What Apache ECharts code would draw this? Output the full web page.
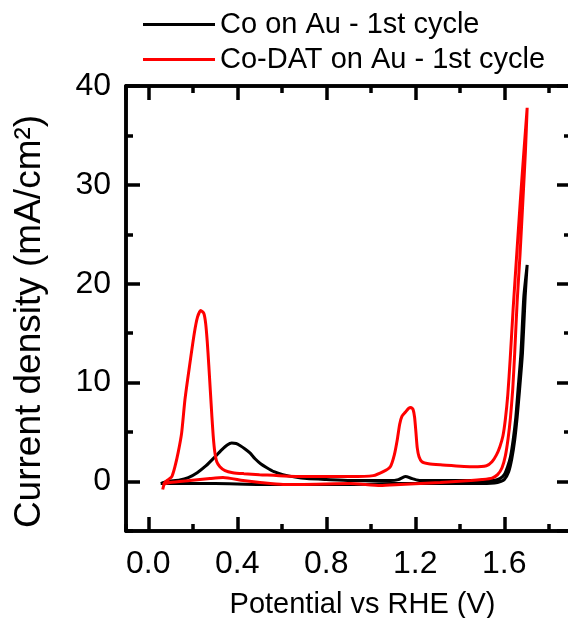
<!DOCTYPE html>
<html>
<head>
<meta charset="utf-8">
<script src="https://cdn.jsdelivr.net/npm/echarts@6/dist/echarts.min.js"></script>
<style>html,body{margin:0;padding:0;background:#fff}#c{width:568px;height:618px}</style>
</head>
<body>
<div id="c"></div>
<script>
// Co on Au - 1st cycle (forward then reverse scan)
const coPotential = [0.056,0.083,0.142,0.18,0.22,0.26,0.3,0.33,0.355,0.375,0.395,0.412,0.435,0.457,0.48,0.505,0.533,0.565,0.605,0.66,0.713,0.8,0.908,1.088,1.124,1.155,1.187,1.223,1.35,1.493,1.55,1.58,1.6,1.615,1.628,1.64,1.652,1.662,1.675,1.688,1.703,
  1.694,1.682,1.669,1.658,1.647,1.634,1.62,1.6,1.57,1.5,1.3,1.1,0.908,0.7,0.5,0.3,0.15,0.09,0.056];
const coCurrent = [-0.2,0.0,0.15,0.4,0.9,1.6,2.5,3.2,3.7,3.9,3.85,3.65,3.3,2.9,2.3,1.8,1.4,1.0,0.7,0.45,0.3,0.2,0.1,0.1,0.2,0.5,0.3,0.1,0.1,0.1,0.1,0.3,0.7,1.5,2.5,4.2,6.5,9.3,13.0,18.7,21.9,
  18.7,13.0,9.3,6.5,4.2,2.3,1.0,0.2,-0.1,-0.2,-0.2,-0.2,-0.3,-0.3,-0.3,-0.2,-0.2,-0.2,-0.2];
// Co-DAT on Au - 1st cycle
const codatPotential = [0.065,0.074,0.09,0.106,0.12,0.135,0.15,0.165,0.185,0.207,0.221,0.236,0.25,0.258,0.265,0.272,0.279,0.286,0.292,0.299,0.308,0.322,0.345,0.38,0.43,0.5,0.682,0.908,1.011,1.056,1.088,1.106,1.119,1.13,1.14,1.155,1.17,1.18,1.19,1.197,1.203,1.209,1.217,1.23,1.26,1.313,1.462,1.52,1.545,1.565,1.58,1.594,1.605,1.616,1.627,1.64,1.655,1.672,1.688,1.703,
  1.695,1.684,1.671,1.658,1.647,1.638,1.628,1.617,1.605,1.59,1.57,1.545,1.5,1.45,1.313,1.133,1.043,0.908,0.682,0.606,0.502,0.426,0.336,0.277,0.187,0.097,0.065];
const codatCurrent = [-0.8,-0.1,0.2,0.5,1.5,3.0,4.9,8.3,11.6,15.0,16.6,17.3,17.0,16.0,14.2,11.8,9.2,6.6,4.6,3.0,2.0,1.5,1.1,0.9,0.8,0.7,0.5,0.5,0.6,1.0,1.5,2.7,4.2,5.8,6.6,7.0,7.4,7.5,7.3,6.5,5.0,3.4,2.5,2.0,1.8,1.7,1.5,1.6,2.0,2.7,3.5,4.6,6.3,8.8,12.5,17.5,22.6,28.3,33.3,37.8,
  33.3,28.5,23.0,18.2,13.0,9.3,6.5,4.3,2.6,1.4,0.7,0.35,0.2,0.1,-0.1,-0.3,-0.4,-0.2,-0.3,-0.3,-0.1,0.1,0.4,0.3,0.1,-0.1,-0.3];
const seriesNames = ['Co on Au - 1st cycle', 'Co-DAT on Au - 1st cycle'];
const xMin = -0.1, xMax = 1.9, xMajor = 0.4, xMinor = 0.2;
const yMin = -5, yMax = 40, yMajor = 10, yMinor = 5;

const FONT = 'Liberation Sans, Arial, sans-serif';
const zip = (a, b) => a.map((v, i) => [v, b[i]]);
const lineCol = '#000';
const AXW = 3.5;

function xAx(pos, major, withLabel) {
  const step = major ? xMajor : xMinor;
  const ax = {
    type: 'value', position: pos, min: xMin, max: xMax, minInterval: step, maxInterval: step,
    axisLine: {show: true, onZero: false, lineStyle: {color: lineCol, width: AXW}},
    axisTick: {show: true, inside: true, length: major ? 14 : 7, lineStyle: {color: lineCol, width: AXW}},
    axisLabel: {show: !!withLabel},
    splitLine: {show: false}
  };
  if (withLabel) {
    ax.axisLabel = {show: true, margin: 17, color: '#000', fontSize: 32, fontFamily: FONT,
      showMinLabel: false, showMaxLabel: false,
      formatter: v => (v < 0 || v > 1.85) ? '' : (Math.abs(v) < 1e-9 ? 0 : v).toFixed(1)};
    ax.name = 'Potential vs RHE (V)';
    ax.nameLocation = 'middle';
    ax.nameGap = 59;
    ax.nameTextStyle = {color: '#000', fontSize: 29, fontFamily: FONT, padding: [0, 0, 0, 28]};
  }
  return ax;
}
function yAx(pos, major, withLabel) {
  const step = major ? yMajor : yMinor;
  const ax = {
    type: 'value', position: pos, min: yMin, max: yMax, minInterval: step, maxInterval: step,
    axisLine: {show: true, onZero: false, lineStyle: {color: lineCol, width: AXW}},
    axisTick: {show: true, inside: true, length: major ? 14 : 7, lineStyle: {color: lineCol, width: AXW}},
    axisLabel: {show: !!withLabel},
    splitLine: {show: false}
  };
  if (withLabel) {
    ax.axisLabel = {show: true, margin: 15, color: '#000', fontSize: 32, fontFamily: FONT,
      showMinLabel: false,
      formatter: v => v < 0 ? '' : String(Math.round(v))};
    ax.name = 'Current density (mA/cm²)';
    ax.nameLocation = 'middle';
    ax.nameRotate = 90;
    ax.nameGap = 78;
    ax.nameTextStyle = {color: '#000', fontSize: 37, fontFamily: FONT, padding: [0, 26, 0, 0]};
  }
  return ax;
}

const chart = echarts.init(document.getElementById('c'), null, {renderer: 'canvas'});
chart.setOption({
  animation: false,
  backgroundColor: '#fff',
  grid: {left: 126, right: -3, top: 86, bottom: 87, containLabel: false, outerBoundsMode: 'none'},
  legend: {
    orient: 'vertical', left: 138, top: 5, itemWidth: 72, itemHeight: 3, itemGap: 6, icon: 'rect',
    textStyle: {color: '#000', fontSize: 29, fontFamily: FONT},
    data: seriesNames
  },
  xAxis: [xAx('bottom', true, true), xAx('bottom', false), xAx('top', true), xAx('top', false)],
  yAxis: [yAx('left', true, true), yAx('left', false), yAx('right', true), yAx('right', false)],
  series: [
    {name: seriesNames[0], type: 'line', data: zip(coPotential, coCurrent), showSymbol: false, symbol: 'none',
      smooth: 0.2, lineStyle: {color: '#000', width: 3}, itemStyle: {color: '#000'}, z: 3},
    {name: seriesNames[1], type: 'line', data: zip(codatPotential, codatCurrent), showSymbol: false, symbol: 'none',
      smooth: 0.2, lineStyle: {color: '#ff0000', width: 3}, itemStyle: {color: '#ff0000'}, z: 4}
  ]
});
</script>
</body>
</html>
